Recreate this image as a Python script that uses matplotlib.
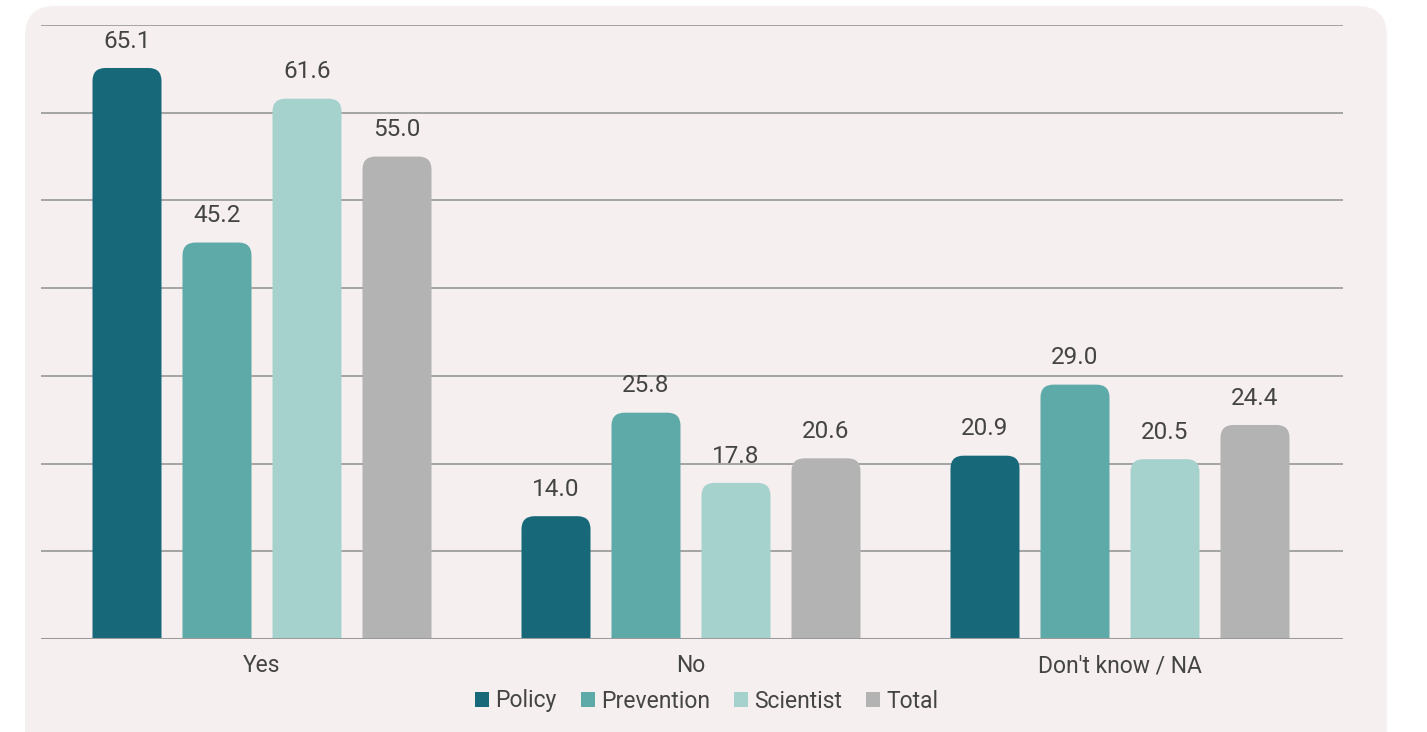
import numpy as np
import matplotlib.pyplot as plt
from matplotlib.patches import FancyBboxPatch, Patch

# survey answers by group (%)
categories = ["Yes", "No", "Don't know / NA"]
groups = ["Policy", "Prevention", "Scientist", "Total"]
policy = [65.1, 14.0, 20.9]
prevention = [45.2, 25.8, 29.0]
scientist = [61.6, 17.8, 20.5]
total = [55.0, 20.6, 24.4]
series = [policy, prevention, scientist, total]
colors = ["#17697a", "#5eaaa8", "#a5d2cc", "#b3b3b3"]

plt.rcParams['font.family'] = ['Roboto', 'DejaVu Sans']
text_color = "#444444"

fig = plt.figure(figsize=(14.27, 7.32), dpi=100, facecolor="white")

# rounded panel behind the chart
W, H = 1427, 732
panel = FancyBboxPatch((25 / W, -0.05), (1387 - 25) / W, 0.05 + (H - 6) / H,
                       boxstyle="round,pad=0,rounding_size=%f" % (30 / W),
                       mutation_aspect=W / H, transform=fig.transFigure,
                       facecolor="#f5efef", edgecolor="none", zorder=-5)
fig.patches.append(panel)

ax = fig.add_axes([41 / W, 1 - 639 / H, (1343 - 41) / W, (639 - 25) / H])
ax.set_zorder(1)
ax.set_facecolor("none")
unit = 429  # pixels per category
ax.set_xlim(-(262 - 41) / unit, -(262 - 41) / unit + 1302 / unit)
ax.set_ylim(0, 70)

# horizontal grid
for g in range(10, 80, 10):
    ax.axhline(g, color="#a3a3a3", lw=1.4, zorder=1)
ax.axhline(0, color="#9a9a9a", lw=2.2, zorder=3)

x = np.arange(len(categories))
width = 69 / unit
step = 90 / unit
# corner radius of the bar tops, corrected for the axes aspect
aspect = unit / (614 / 70)
r = 13 / unit

for i, (vals, col) in enumerate(zip(series, colors)):
    offs = (i - 1.5) * step
    for xi, v in zip(x, vals):
        left = xi + offs - width / 2
        bar = FancyBboxPatch((left, -3), width, v + 3,
                             boxstyle="round,pad=0,rounding_size=%f" % r,
                             mutation_aspect=aspect, facecolor=col,
                             edgecolor="none", zorder=2, clip_on=True)
        ax.add_patch(bar)
        ax.annotate("%.1f" % v, (xi + offs, v), xytext=(0, 11),
                    textcoords="offset points", ha="center", va="bottom",
                    fontsize=17.5, color=text_color)

for s in ax.spines.values():
    s.set_visible(False)
ax.set_yticks([])
ax.set_xticks(x)
ax.set_xticklabels(categories, fontsize=16.5, color=text_color)
ax.tick_params(axis="x", length=0, pad=11)

handles = [Patch(facecolor=c, edgecolor="none") for c in colors]
fig.legend(handles, groups, loc="center", bbox_to_anchor=(707 / W, 1 - 701 / H),
           ncol=4, frameon=False, fontsize=16.5, handlelength=0.6,
           handleheight=0.6, handletextpad=0.28, columnspacing=1.05,
           labelcolor=text_color)

fig.savefig("out.png", dpi=100, facecolor="white")
